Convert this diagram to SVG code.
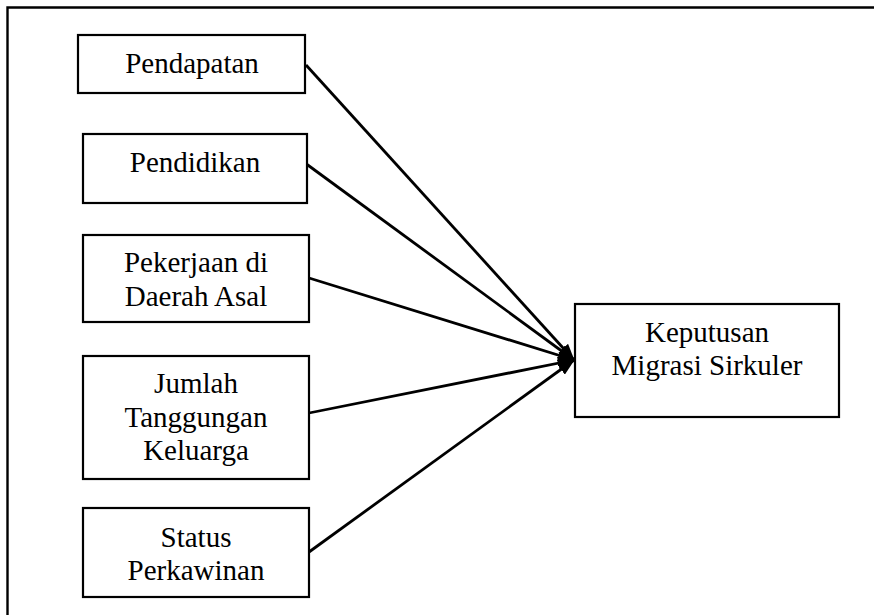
<svg xmlns="http://www.w3.org/2000/svg" width="874" height="615" viewBox="0 0 874 615">
<style>
.box{fill:#fff;stroke:#000;stroke-width:2.2}
.lbl{font-family:"Liberation Serif","Times New Roman",serif;font-size:29px;fill:#000;text-anchor:middle}
.con{stroke:#000;stroke-width:2.8;fill:none;marker-end:url(#ah)}
</style>
<defs>
<marker id="ah" viewBox="0 0 17 13" refX="16" refY="6.5" markerWidth="17" markerHeight="13" orient="auto" markerUnits="userSpaceOnUse">
<path d="M0 0 L17 6.5 L0 13 Z" fill="#000"/>
</marker>
</defs>
<rect width="874" height="615" fill="#fff"/>
<path d="M7.5 615 V7.5 H874" fill="none" stroke="#000" stroke-width="2.4"/>
<g id="connectors">
<line class="con" x1="306" y1="65" x2="574" y2="360"/>
<line class="con" x1="305" y1="163" x2="574" y2="360"/>
<line class="con" x1="309" y1="278" x2="574" y2="360"/>
<line class="con" x1="309" y1="413" x2="574" y2="360"/>
<line class="con" x1="309" y1="552" x2="574" y2="360"/>
</g>
<g id="pendapatan">
<rect class="box" x="78" y="35" width="227" height="58"/>
<text class="lbl" x="192" y="73">Pendapatan</text>
</g>
<g id="pendidikan">
<rect class="box" x="83" y="134" width="224" height="69"/>
<text class="lbl" x="195" y="172">Pendidikan</text>
</g>
<g id="pekerjaan">
<rect class="box" x="83" y="235" width="226" height="87"/>
<text class="lbl" x="196" y="272">Pekerjaan di</text>
<text class="lbl" x="196" y="306">Daerah Asal</text>
</g>
<g id="jumlah">
<rect class="box" x="83" y="356" width="226" height="123"/>
<text class="lbl" x="196" y="393">Jumlah</text>
<text class="lbl" x="196" y="427">Tanggungan</text>
<text class="lbl" x="196" y="460">Keluarga</text>
</g>
<g id="status">
<rect class="box" x="83" y="508" width="226" height="89"/>
<text class="lbl" x="196" y="547">Status</text>
<text class="lbl" x="196" y="580">Perkawinan</text>
</g>
<g id="keputusan">
<rect class="box" x="575" y="304" width="264" height="113"/>
<text class="lbl" x="707" y="342">Keputusan</text>
<text class="lbl" x="707" y="375">Migrasi Sirkuler</text>
</g>
</svg>
